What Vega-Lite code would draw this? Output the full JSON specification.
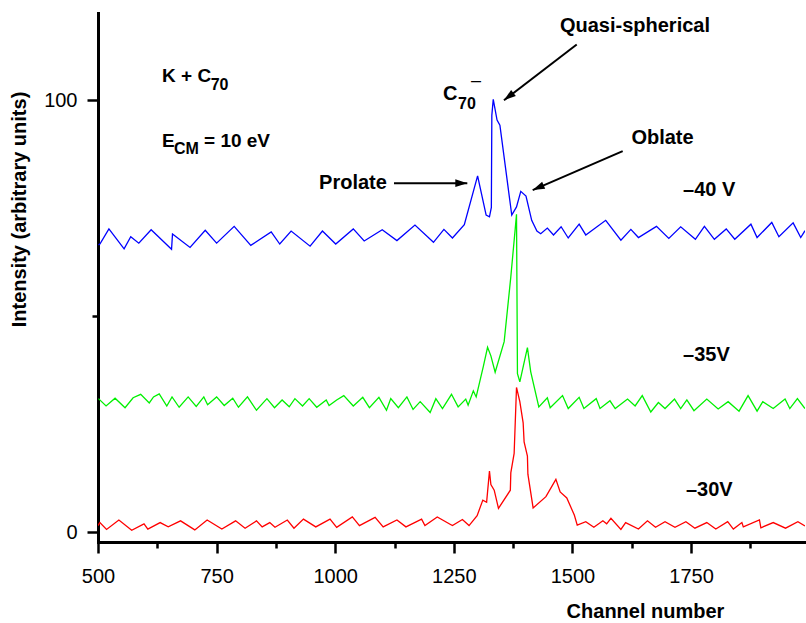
{
  "$schema": "https://vega.github.io/schema/vega-lite/v6.json",
  "width": 707,
  "height": 529,
  "autosize": {"type": "none"},
  "padding": {"left": 98, "top": 13, "right": 1, "bottom": 81},
  "background": "white",
  "config": {"view": {"stroke": null}, "font": "Liberation Sans"},
  "layer": [
    {
      "data": {"values": [
        {"series":"-40 V","channel":501,"intensity":66.5},{"series":"-40 V","channel":504,"intensity":66.7},{"series":"-40 V","channel":523,"intensity":70.2},{"series":"-40 V","channel":555,"intensity":65.6},{"series":"-40 V","channel":569,"intensity":68.4},{"series":"-40 V","channel":586,"intensity":66.9},{"series":"-40 V","channel":612,"intensity":70.0},{"series":"-40 V","channel":655,"intensity":65.5},{"series":"-40 V","channel":657,"intensity":69.0},{"series":"-40 V","channel":694,"intensity":65.9},{"series":"-40 V","channel":726,"intensity":69.9},{"series":"-40 V","channel":750,"intensity":66.9},{"series":"-40 V","channel":787,"intensity":70.8},{"series":"-40 V","channel":822,"intensity":66.4},{"series":"-40 V","channel":865,"intensity":69.5},{"series":"-40 V","channel":883,"intensity":66.7},{"series":"-40 V","channel":907,"intensity":69.7},{"series":"-40 V","channel":947,"intensity":66.2},{"series":"-40 V","channel":973,"intensity":69.7},{"series":"-40 V","channel":1001,"intensity":66.7},{"series":"-40 V","channel":1038,"intensity":70.2},{"series":"-40 V","channel":1061,"intensity":67.4},{"series":"-40 V","channel":1099,"intensity":70.0},{"series":"-40 V","channel":1130,"intensity":67.5},{"series":"-40 V","channel":1168,"intensity":71.1},{"series":"-40 V","channel":1207,"intensity":67.1},{"series":"-40 V","channel":1229,"intensity":70.1},{"series":"-40 V","channel":1247,"intensity":68.1},{"series":"-40 V","channel":1272,"intensity":71.2},{"series":"-40 V","channel":1300,"intensity":82.5},{"series":"-40 V","channel":1318,"intensity":73.4},{"series":"-40 V","channel":1325,"intensity":73.0},{"series":"-40 V","channel":1329,"intensity":75.2},{"series":"-40 V","channel":1330,"intensity":96.5},{"series":"-40 V","channel":1333,"intensity":100.2},{"series":"-40 V","channel":1341,"intensity":95.4},{"series":"-40 V","channel":1347,"intensity":94.2},{"series":"-40 V","channel":1372,"intensity":73.4},{"series":"-40 V","channel":1382,"intensity":75.3},{"series":"-40 V","channel":1391,"intensity":78.9},{"series":"-40 V","channel":1402,"intensity":77.8},{"series":"-40 V","channel":1414,"intensity":72.2},{"series":"-40 V","channel":1425,"intensity":69.7},{"series":"-40 V","channel":1433,"intensity":69.1},{"series":"-40 V","channel":1447,"intensity":70.4},{"series":"-40 V","channel":1460,"intensity":68.8},{"series":"-40 V","channel":1476,"intensity":70.7},{"series":"-40 V","channel":1491,"intensity":68.1},{"series":"-40 V","channel":1514,"intensity":71.3},{"series":"-40 V","channel":1528,"intensity":68.8},{"series":"-40 V","channel":1570,"intensity":72.2},{"series":"-40 V","channel":1602,"intensity":67.6},{"series":"-40 V","channel":1623,"intensity":70.1},{"series":"-40 V","channel":1639,"intensity":68.2},{"series":"-40 V","channel":1677,"intensity":70.8},{"series":"-40 V","channel":1703,"intensity":68.0},{"series":"-40 V","channel":1728,"intensity":70.7},{"series":"-40 V","channel":1759,"intensity":67.8},{"series":"-40 V","channel":1778,"intensity":70.8},{"series":"-40 V","channel":1799,"intensity":67.8},{"series":"-40 V","channel":1824,"intensity":70.2},{"series":"-40 V","channel":1842,"intensity":67.8},{"series":"-40 V","channel":1876,"intensity":71.3},{"series":"-40 V","channel":1889,"intensity":68.2},{"series":"-40 V","channel":1920,"intensity":71.7},{"series":"-40 V","channel":1935,"intensity":68.4},{"series":"-40 V","channel":1965,"intensity":71.6},{"series":"-40 V","channel":1981,"intensity":68.2},{"series":"-40 V","channel":1990,"intensity":69.8},

        {"series":"-35V","channel":501,"intensity":30.9},{"series":"-35V","channel":517,"intensity":29.2},{"series":"-35V","channel":536,"intensity":31.0},{"series":"-35V","channel":557,"intensity":28.8},{"series":"-35V","channel":574,"intensity":31.1},{"series":"-35V","channel":590,"intensity":31.9},{"series":"-35V","channel":608,"intensity":29.9},{"series":"-35V","channel":617,"intensity":31.3},{"series":"-35V","channel":629,"intensity":32.0},{"series":"-35V","channel":645,"intensity":29.2},{"series":"-35V","channel":656,"intensity":31.3},{"series":"-35V","channel":671,"intensity":28.9},{"series":"-35V","channel":690,"intensity":31.3},{"series":"-35V","channel":707,"intensity":29.1},{"series":"-35V","channel":723,"intensity":31.3},{"series":"-35V","channel":731,"intensity":29.5},{"series":"-35V","channel":750,"intensity":31.3},{"series":"-35V","channel":766,"intensity":29.3},{"series":"-35V","channel":784,"intensity":31.0},{"series":"-35V","channel":796,"intensity":28.9},{"series":"-35V","channel":815,"intensity":31.3},{"series":"-35V","channel":834,"intensity":28.2},{"series":"-35V","channel":856,"intensity":30.9},{"series":"-35V","channel":872,"intensity":28.8},{"series":"-35V","channel":888,"intensity":30.6},{"series":"-35V","channel":903,"intensity":29.0},{"series":"-35V","channel":915,"intensity":30.9},{"series":"-35V","channel":931,"intensity":29.2},{"series":"-35V","channel":945,"intensity":30.9},{"series":"-35V","channel":961,"intensity":28.9},{"series":"-35V","channel":981,"intensity":30.6},{"series":"-35V","channel":987,"intensity":29.3},{"series":"-35V","channel":1003,"intensity":30.6},{"series":"-35V","channel":1018,"intensity":31.6},{"series":"-35V","channel":1038,"intensity":29.2},{"series":"-35V","channel":1058,"intensity":31.2},{"series":"-35V","channel":1072,"intensity":28.8},{"series":"-35V","channel":1092,"intensity":31.2},{"series":"-35V","channel":1108,"intensity":28.2},{"series":"-35V","channel":1117,"intensity":30.9},{"series":"-35V","channel":1133,"intensity":28.8},{"series":"-35V","channel":1151,"intensity":31.3},{"series":"-35V","channel":1164,"intensity":28.4},{"series":"-35V","channel":1179,"intensity":30.2},{"series":"-35V","channel":1200,"intensity":27.7},{"series":"-35V","channel":1212,"intensity":30.9},{"series":"-35V","channel":1226,"intensity":28.6},{"series":"-35V","channel":1245,"intensity":31.9},{"series":"-35V","channel":1259,"intensity":29.0},{"series":"-35V","channel":1275,"intensity":30.8},{"series":"-35V","channel":1280,"intensity":29.4},{"series":"-35V","channel":1291,"intensity":32.7},{"series":"-35V","channel":1297,"intensity":31.3},{"series":"-35V","channel":1312,"intensity":38.3},{"series":"-35V","channel":1321,"intensity":42.8},{"series":"-35V","channel":1328,"intensity":40.8},{"series":"-35V","channel":1337,"intensity":37.0},{"series":"-35V","channel":1356,"intensity":44.1},{"series":"-35V","channel":1370,"intensity":59.1},{"series":"-35V","channel":1379,"intensity":69.9},{"series":"-35V","channel":1382,"intensity":73.6},{"series":"-35V","channel":1384,"intensity":36.7},{"series":"-35V","channel":1389,"intensity":34.8},{"series":"-35V","channel":1405,"intensity":42.7},{"series":"-35V","channel":1412,"intensity":37.1},{"series":"-35V","channel":1429,"intensity":29.0},{"series":"-35V","channel":1447,"intensity":31.1},{"series":"-35V","channel":1453,"intensity":28.8},{"series":"-35V","channel":1479,"intensity":31.6},{"series":"-35V","channel":1491,"intensity":28.6},{"series":"-35V","channel":1514,"intensity":31.2},{"series":"-35V","channel":1524,"intensity":28.6},{"series":"-35V","channel":1550,"intensity":30.9},{"series":"-35V","channel":1558,"intensity":28.6},{"series":"-35V","channel":1579,"intensity":30.4},{"series":"-35V","channel":1590,"intensity":28.6},{"series":"-35V","channel":1616,"intensity":30.8},{"series":"-35V","channel":1632,"intensity":29.2},{"series":"-35V","channel":1647,"intensity":31.6},{"series":"-35V","channel":1665,"intensity":27.8},{"series":"-35V","channel":1681,"intensity":30.0},{"series":"-35V","channel":1695,"intensity":28.6},{"series":"-35V","channel":1715,"intensity":30.8},{"series":"-35V","channel":1728,"intensity":28.6},{"series":"-35V","channel":1741,"intensity":30.6},{"series":"-35V","channel":1756,"intensity":28.1},{"series":"-35V","channel":1783,"intensity":30.8},{"series":"-35V","channel":1807,"intensity":28.5},{"series":"-35V","channel":1828,"intensity":30.2},{"series":"-35V","channel":1851,"intensity":28.0},{"series":"-35V","channel":1870,"intensity":31.6},{"series":"-35V","channel":1889,"intensity":28.0},{"series":"-35V","channel":1901,"intensity":30.2},{"series":"-35V","channel":1923,"intensity":28.6},{"series":"-35V","channel":1948,"intensity":30.8},{"series":"-35V","channel":1958,"intensity":28.6},{"series":"-35V","channel":1974,"intensity":30.9},{"series":"-35V","channel":1990,"intensity":28.6},

        {"series":"-30V","channel":500,"intensity":1.5},{"series":"-30V","channel":504,"intensity":2.2},{"series":"-30V","channel":518,"intensity":0.6},{"series":"-30V","channel":544,"intensity":2.8},{"series":"-30V","channel":571,"intensity":0.4},{"series":"-30V","channel":597,"intensity":1.9},{"series":"-30V","channel":605,"intensity":0.7},{"series":"-30V","channel":631,"intensity":2.2},{"series":"-30V","channel":648,"intensity":1.2},{"series":"-30V","channel":674,"intensity":2.6},{"series":"-30V","channel":704,"intensity":0.5},{"series":"-30V","channel":730,"intensity":2.8},{"series":"-30V","channel":761,"intensity":0.7},{"series":"-30V","channel":790,"intensity":2.6},{"series":"-30V","channel":810,"intensity":0.9},{"series":"-30V","channel":834,"intensity":2.6},{"series":"-30V","channel":846,"intensity":1.2},{"series":"-30V","channel":862,"intensity":2.2},{"series":"-30V","channel":873,"intensity":1.1},{"series":"-30V","channel":899,"intensity":2.8},{"series":"-30V","channel":913,"intensity":0.9},{"series":"-30V","channel":933,"intensity":3.0},{"series":"-30V","channel":959,"intensity":1.2},{"series":"-30V","channel":989,"intensity":3.0},{"series":"-30V","channel":1003,"intensity":1.1},{"series":"-30V","channel":1036,"intensity":3.5},{"series":"-30V","channel":1051,"intensity":1.5},{"series":"-30V","channel":1084,"intensity":3.4},{"series":"-30V","channel":1101,"intensity":1.2},{"series":"-30V","channel":1130,"intensity":2.8},{"series":"-30V","channel":1149,"intensity":1.2},{"series":"-30V","channel":1182,"intensity":3.0},{"series":"-30V","channel":1189,"intensity":1.5},{"series":"-30V","channel":1215,"intensity":3.5},{"series":"-30V","channel":1242,"intensity":1.8},{"series":"-30V","channel":1247,"intensity":1.5},{"series":"-30V","channel":1268,"intensity":2.9},{"series":"-30V","channel":1282,"intensity":1.5},{"series":"-30V","channel":1299,"intensity":3.8},{"series":"-30V","channel":1311,"intensity":7.4},{"series":"-30V","channel":1319,"intensity":6.9},{"series":"-30V","channel":1325,"intensity":14.1},{"series":"-30V","channel":1328,"intensity":11.0},{"series":"-30V","channel":1335,"intensity":9.7},{"series":"-30V","channel":1344,"intensity":5.5},{"series":"-30V","channel":1369,"intensity":9.7},{"series":"-30V","channel":1370,"intensity":13.7},{"series":"-30V","channel":1377,"intensity":18.2},{"series":"-30V","channel":1382,"intensity":33.5},{"series":"-30V","channel":1389,"intensity":30.2},{"series":"-30V","channel":1396,"intensity":25.3},{"series":"-30V","channel":1398,"intensity":20.9},{"series":"-30V","channel":1405,"intensity":17.6},{"series":"-30V","channel":1406,"intensity":13.4},{"series":"-30V","channel":1417,"intensity":5.6},{"series":"-30V","channel":1444,"intensity":8.2},{"series":"-30V","channel":1465,"intensity":12.2},{"series":"-30V","channel":1474,"intensity":9.3},{"series":"-30V","channel":1488,"intensity":7.9},{"series":"-30V","channel":1504,"intensity":3.9},{"series":"-30V","channel":1510,"intensity":1.6},{"series":"-30V","channel":1528,"intensity":2.4},{"series":"-30V","channel":1545,"intensity":1.1},{"series":"-30V","channel":1564,"intensity":2.6},{"series":"-30V","channel":1572,"intensity":1.9},{"series":"-30V","channel":1581,"intensity":3.2},{"series":"-30V","channel":1602,"intensity":0.6},{"series":"-30V","channel":1612,"intensity":2.2},{"series":"-30V","channel":1639,"intensity":0.7},{"series":"-30V","channel":1658,"intensity":2.6},{"series":"-30V","channel":1675,"intensity":1.1},{"series":"-30V","channel":1695,"intensity":2.4},{"series":"-30V","channel":1716,"intensity":1.1},{"series":"-30V","channel":1739,"intensity":2.4},{"series":"-30V","channel":1758,"intensity":0.9},{"series":"-30V","channel":1783,"intensity":2.2},{"series":"-30V","channel":1802,"intensity":0.7},{"series":"-30V","channel":1827,"intensity":2.4},{"series":"-30V","channel":1839,"intensity":0.7},{"series":"-30V","channel":1857,"intensity":2.2},{"series":"-30V","channel":1860,"intensity":1.2},{"series":"-30V","channel":1894,"intensity":2.8},{"series":"-30V","channel":1897,"intensity":1.0},{"series":"-30V","channel":1923,"intensity":2.2},{"series":"-30V","channel":1949,"intensity":0.9},{"series":"-30V","channel":1975,"intensity":2.4},{"series":"-30V","channel":1990,"intensity":1.4}
      ]},
      "mark": {"type": "line", "strokeWidth": 1.3, "clip": true},
      "encoding": {
        "x": {
          "field": "channel", "type": "quantitative",
          "scale": {"domain": [500, 1990], "nice": false, "zero": false},
          "axis": {
            "values": [500, 625, 750, 875, 1000, 1125, 1250, 1375, 1500, 1625, 1750, 1875],
            "format": "d",
            "labelExpr": "datum.value % 250 === 0 ? datum.label : ''",
            "tickSize": {"condition": {"test": "datum.value % 250 === 0", "value": 11}, "value": 6},
            "tickWidth": 2.5, "tickColor": "black",
            "domainColor": "black", "domainWidth": 3, "domainCap": "square",
            "grid": false,
            "labelFont": "Liberation Sans", "labelFontSize": 20, "labelColor": "black",
            "labelPadding": 13, "labelFlush": false,
            "title": "Channel number",
            "titleFont": "Liberation Sans", "titleFontSize": 20, "titleFontWeight": "bold", "titleColor": "black",
            "titleX": 547, "titleY": 69, "titleAlign": "center", "titleBaseline": "middle"
          }
        },
        "y": {
          "field": "intensity", "type": "quantitative",
          "scale": {"domain": [-2.3, 120.2], "nice": false, "zero": false},
          "axis": {
            "values": [0, 50, 100],
            "labelExpr": "datum.value === 50 ? '' : datum.label",
            "tickSize": {"condition": {"test": "datum.value === 50", "value": 6}, "value": 11},
            "tickWidth": 2.5, "tickColor": "black",
            "domainColor": "black", "domainWidth": 3, "domainCap": "square",
            "grid": false,
            "labelFont": "Liberation Sans", "labelFontSize": 20, "labelColor": "black",
            "labelPadding": 10,
            "title": "Intensity (arbitrary units)",
            "titleFont": "Liberation Sans", "titleFontSize": 20, "titleFontWeight": "bold", "titleColor": "black",
            "titleX": -79, "titleY": 196, "titleAngle": 270, "titleAlign": "center", "titleBaseline": "middle"
          }
        },
        "color": {
          "field": "series", "type": "nominal",
          "scale": {"domain": ["-40 V", "-35V", "-30V"], "range": ["#0000ff", "#00f000", "#ff0000"]},
          "legend": null
        }
      }
    },
    {
      "data": {"values": [
        {"channel": 1123.8, "intensity": 80.8, "channel2": 1278.3, "intensity2": 80.8},
        {"channel": 1508.9, "intensity": 112.9, "channel2": 1355.6, "intensity2": 100.0},
        {"channel": 1605.8, "intensity": 88.2, "channel2": 1416.1, "intensity2": 79.2}
      ]},
      "mark": {"type": "rule", "color": "black", "strokeWidth": 2},
      "encoding": {
        "x": {"field": "channel", "type": "quantitative"},
        "y": {"field": "intensity", "type": "quantitative"},
        "x2": {"field": "channel2"},
        "y2": {"field": "intensity2"}
      }
    },
    {
      "data": {"values": [{"channel": 1278.3, "intensity": 80.8}]},
      "mark": {"type": "point", "shape": "M0,0L-0.32,1L0.32,1Z", "size": 576, "filled": true, "color": "black", "opacity": 1, "angle": 90},
      "encoding": {"x": {"field": "channel", "type": "quantitative"}, "y": {"field": "intensity", "type": "quantitative"}}
    },
    {
      "data": {"values": [{"channel": 1355.6, "intensity": 100.0}]},
      "mark": {"type": "point", "shape": "M0,0L-0.32,1L0.32,1Z", "size": 576, "filled": true, "color": "black", "opacity": 1, "angle": 232.5},
      "encoding": {"x": {"field": "channel", "type": "quantitative"}, "y": {"field": "intensity", "type": "quantitative"}}
    },
    {
      "data": {"values": [{"channel": 1416.1, "intensity": 79.2}]},
      "mark": {"type": "point", "shape": "M0,0L-0.32,1L0.32,1Z", "size": 576, "filled": true, "color": "black", "opacity": 1, "angle": 246.6},
      "encoding": {"x": {"field": "channel", "type": "quantitative"}, "y": {"field": "intensity", "type": "quantitative"}}
    },
    {
      "data": {"values": [
        {"channel": 1631.7, "intensity": 117.2, "label": "Quasi-spherical"},
        {"channel": 1689.7, "intensity": 91.2, "label": "Oblate"},
        {"channel": 1037.4, "intensity": 80.8, "label": "Prolate"}
      ]},
      "mark": {"type": "text", "font": "Liberation Sans", "fontSize": 20, "fontWeight": "bold", "color": "black", "align": "center", "baseline": "middle"},
      "encoding": {"x": {"field": "channel", "type": "quantitative"}, "y": {"field": "intensity", "type": "quantitative"}, "text": {"field": "label"}}
    },
    {
      "data": {"values": [
        {"channel": 1733, "intensity": 79.2, "label": "–40 V"},
        {"channel": 1733, "intensity": 41.0, "label": "–35V"},
        {"channel": 1739, "intensity": 9.7, "label": "–30V"},
        {"channel": 1227.1, "intensity": 101.4, "label": "C"}
      ]},
      "mark": {"type": "text", "font": "Liberation Sans", "fontSize": 20, "fontWeight": "bold", "color": "black", "align": "left", "baseline": "middle"},
      "encoding": {"x": {"field": "channel", "type": "quantitative"}, "y": {"field": "intensity", "type": "quantitative"}, "text": {"field": "label"}}
    },
    {
      "data": {"values": [
        {"channel": 634.9, "intensity": 105.6, "label": "K + C"},
        {"channel": 634.9, "intensity": 90.6, "label": "E"},
        {"channel": 723.4, "intensity": 90.6, "label": "= 10 eV"}
      ]},
      "mark": {"type": "text", "font": "Liberation Sans", "fontSize": 19, "fontWeight": "bold", "color": "black", "align": "left", "baseline": "middle"},
      "encoding": {"x": {"field": "channel", "type": "quantitative"}, "y": {"field": "intensity", "type": "quantitative"}, "text": {"field": "label"}}
    },
    {
      "data": {"values": [
        {"channel": 737.5, "intensity": 103.5, "label": "70"},
        {"channel": 660.2, "intensity": 88.7, "label": "CM"},
        {"channel": 1258.7, "intensity": 99.1, "label": "70"}
      ]},
      "mark": {"type": "text", "font": "Liberation Sans", "fontSize": 16, "fontWeight": "bold", "color": "black", "align": "left", "baseline": "middle"},
      "encoding": {"x": {"field": "channel", "type": "quantitative"}, "y": {"field": "intensity", "type": "quantitative"}, "text": {"field": "label"}}
    },
    {
      "data": {"values": [
        {"channel": 1286.1, "intensity": 104.4, "label": "–"}
      ]},
      "mark": {"type": "text", "font": "Liberation Sans", "fontSize": 18, "fontWeight": "normal", "color": "black", "align": "left", "baseline": "middle"},
      "encoding": {"x": {"field": "channel", "type": "quantitative"}, "y": {"field": "intensity", "type": "quantitative"}, "text": {"field": "label"}}
    }
  ]
}
